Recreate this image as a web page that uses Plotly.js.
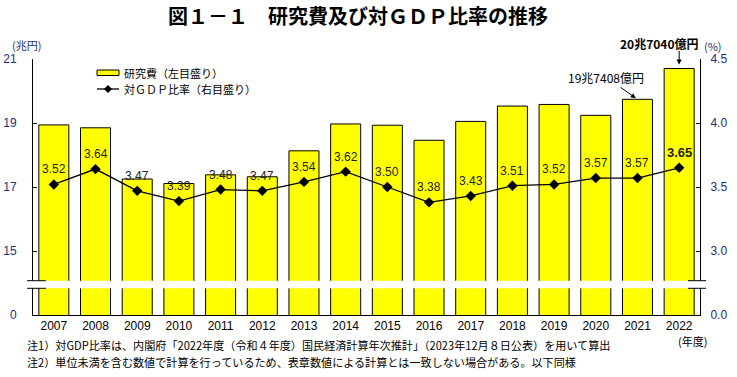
<!DOCTYPE html>
<html>
<head>
<meta charset="utf-8">
<script src="https://cdn.plot.ly/plotly-3.0.1.min.js"></script>
<style>html,body{margin:0;padding:0;background:#fff;}#chart{width:737px;height:377px;}</style>
</head>
<body>
<div id="chart"></div>
<script>
const years = ['2007','2008','2009','2010','2011','2012','2013','2014','2015','2016','2017','2018','2019','2020','2021','2022'];
const rdExpense = [18.94, 18.85, 17.25, 17.11, 17.38, 17.32, 18.13, 18.97, 18.93, 18.46, 19.05, 19.53, 19.58, 19.24, 19.7408, 20.704];
const gdpRatio = [3.52, 3.64, 3.47, 3.39, 3.48, 3.47, 3.54, 3.62, 3.50, 3.38, 3.43, 3.51, 3.52, 3.57, 3.57, 3.65];
const leftTickVals = [13, 15, 17, 19, 21];
const leftTickText = ['0', '15', '17', '19', '21'];
const rightTickVals = [2.5, 3.0, 3.5, 4.0, 4.5];
const rightTickText = ['0.0', '3.0', '3.5', '4.0', '4.5'];

const JP = "'Noto Sans CJK JP', sans-serif";
const NUM = "'Liberation Sans Narrow', 'Liberation Sans', Arial, sans-serif";
const AXC = '#1c2e78';

const W = 737, H = 377, L = 33, R = 37, T = 59, B = 62;
const PW = W - L - R, PH = H - T - B;
const px = x => (x - L) / PW;
const py = y => (H - B - y) / PH;

const traces = [
  {type:'bar', x:years, y:rdExpense, yaxis:'y', name:'研究費（左目盛り）',
   marker:{color:'#FFFF00', line:{color:'#000', width:1}}, hoverinfo:'x+y'},
  {type:'scatter', mode:'lines+markers', x:years, y:gdpRatio, yaxis:'y2', name:'対ＧＤＰ比率（右目盛り）',
   line:{color:'#000', width:1.3}, marker:{symbol:'diamond', size:8, color:'#000'}}
];

const last = years.length - 1;
const annotations = years.map((yr, i) => ({
  x: i, y: gdpRatio[i], xref:'x', yref:'y2', xanchor:'center', yanchor:'middle',
  text: i === last ? '<b>' + gdpRatio[i].toFixed(2) + '</b>' : gdpRatio[i].toFixed(2),
  showarrow:false, yshift:15, font:{family:NUM, size: i === last ? 13 : 12, color:'#222'}
}));

const P = (x, y, text, size, color, xa) => ({x:px(x), y:py(y), xref:'paper', yref:'paper',
  xanchor: xa || 'center', yanchor:'middle', text:text, showarrow:false, font:{family:JP, size:size, color:color}});

annotations.push(
  {x: 14, y: rdExpense[14], xref:'x', yref:'y', text:'19兆7408億円', showarrow:true,
   ax:-31, ay:-22, arrowhead:2, arrowsize:1, arrowwidth:1, arrowcolor:'#000', standoff:2,
   font:{family:JP, size:12, color:'#000'}},
  {x: 15, y: rdExpense[15], xref:'x', yref:'y', text:'', showarrow:true,
   ax:0, ay:-19, arrowhead:2, arrowsize:1, arrowwidth:1, arrowcolor:'#000', standoff:4},
  {x: 15, y: rdExpense[15], xref:'x', yref:'y', xanchor:'center', yanchor:'middle', text:'<b>20兆7040億円</b>', showarrow:false,
   xshift:-20, yshift:25, font:{family:JP, size:12, color:'#000'}},
  P(26, 45, '(兆円)', 11, AXC),
  P(713, 46, '(%)', 11, AXC),
  P(692, 341, '(年度)', 11, '#000'),
  P(25, 345, '注1）対GDP比率は、内閣府「2022年度（令和４年度）国民経済計算年次推計」（2023年12月８日公表）を用いて算出', 11.1, '#000', 'left'),
  P(25, 362, '注2）単位未満を含む数値で計算を行っているため、表章数値による計算とは一致しない場合がある。以下同様', 11.1, '#000', 'left'),
  P(122, 72.5, '研究費（左目盛り）', 11, '#000', 'left'),
  P(122, 89, '対ＧＤＰ比率（右目盛り）', 11, '#000', 'left')
);

const shapes = [
  // legend symbols
  {type:'rect', xref:'paper', yref:'paper', x0:px(97), x1:px(119), y0:py(75.5), y1:py(70), fillcolor:'#FFFF00', line:{color:'#000', width:1}},
  {type:'line', xref:'paper', yref:'paper', x0:px(97), x1:px(119), y0:py(89), y1:py(89), line:{color:'#000', width:1.3}},
  {type:'path', xref:'paper', yref:'paper', xsizemode:'pixel', ysizemode:'pixel', xanchor:px(108), yanchor:py(89),
   path:'M -4 0 L 0 4 L 4 0 L 0 -4 Z', fillcolor:'#000', line:{color:'#000', width:0}},
  // axis break
  {type:'rect', xref:'paper', yref:'paper', layer:'above', x0:-0.02, x1:1.02, y0:py(288.3), y1:py(280.7), fillcolor:'#fff', line:{width:0}},
  {type:'line', xref:'paper', yref:'paper', layer:'above', x0:px(27), x1:px(46), y0:py(280.7), y1:py(280.7), line:{color:'#000', width:1}},
  {type:'line', xref:'paper', yref:'paper', layer:'above', x0:px(27), x1:px(46), y0:py(288.3), y1:py(288.3), line:{color:'#000', width:1}},
  {type:'line', xref:'paper', yref:'paper', layer:'above', x0:px(688), x1:px(706), y0:py(280.7), y1:py(280.7), line:{color:'#000', width:1}},
  {type:'line', xref:'paper', yref:'paper', layer:'above', x0:px(688), x1:px(706), y0:py(288.3), y1:py(288.3), line:{color:'#000', width:1}}
];

const layout = {
  width:W, height:H, margin:{l:L, r:R, t:T, b:B, pad:0},
  paper_bgcolor:'#fff', plot_bgcolor:'#fff', showlegend:false,
  title:{text:'<b>図１－１　研究費及び対ＧＤＰ比率の推移</b>', x:358/W, xanchor:'center', xref:'container',
         y:1 - 17/H, yanchor:'middle', yref:'container', font:{family:JP, size:20, color:'#000'}},
  bargap:0.28,
  xaxis:{type:'category', range:[-0.5, 15.5], showline:true, linecolor:'#000', linewidth:1, ticks:'',
         showgrid:false, zeroline:false, tickfont:{family:NUM, size:12, color:'#000'}, fixedrange:true},
  yaxis:{range:[13, 21], tickvals:leftTickVals, ticktext:leftTickText, showline:true, linecolor:'#000', linewidth:1,
         ticks:'inside', ticklen:4, tickcolor:'#000', showgrid:false, zeroline:false, ticklabelstandoff:13,
         tickfont:{family:NUM, size:12, color:AXC}, fixedrange:true},
  yaxis2:{range:[2.5, 4.5], tickvals:rightTickVals, ticktext:rightTickText, overlaying:'y', side:'right',
          showline:true, linecolor:'#000', linewidth:1, ticks:'inside', ticklen:4, tickcolor:'#000',
          showgrid:false, zeroline:false, ticklabelstandoff:7, tickfont:{family:NUM, size:12, color:AXC}, fixedrange:true},
  annotations:annotations, shapes:shapes
};

Plotly.newPlot('chart', traces, layout, {displayModeBar:false, staticPlot:true});
</script>
</body>
</html>
